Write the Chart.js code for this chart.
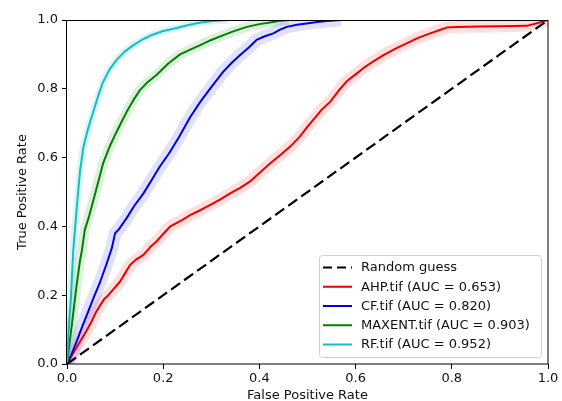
<!DOCTYPE html>
<html><head><meta charset="utf-8">
<script src="https://cdn.jsdelivr.net/npm/chart.js@4/dist/chart.umd.min.js"></script>
<style>html,body{margin:0;padding:0;background:#fff}#wrap{width:562px;height:401px}</style>
</head><body><div id="wrap"><canvas id="c" width="562" height="401"></canvas></div>
<script>
// ---- data ----
const xTicks = [0, 0.2, 0.4, 0.6, 0.8, 1.0];
const yTicks = [0, 0.2, 0.4, 0.6, 0.8, 1.0];
const xTitle = 'False Positive Rate';
const yTitle = 'True Positive Rate';

const diagLabel = 'Random guess';
const diagFpr = [0, 1];
const diagTpr = [0, 1];

const ahpLabel = 'AHP.tif (AUC = 0.653)';
const ahpFpr = [0,0.012,0.027,0.04,0.051,0.06,0.069,0.078,0.086,0.098,0.11,0.12,0.131,0.145,0.159,0.173,0.186,0.2,0.214,0.235,0.256,0.277,0.297,0.318,0.339,0.36,0.38,0.4,0.422,0.443,0.464,0.484,0.5,0.515,0.53,0.547,0.565,0.581,0.6,0.616,0.637,0.658,0.682,0.706,0.73,0.755,0.775,0.789,0.81,0.859,0.9,0.956,0.975,1];
const ahpTpr = [0,0.03,0.065,0.095,0.123,0.15,0.171,0.19,0.2,0.22,0.239,0.262,0.288,0.305,0.317,0.34,0.356,0.378,0.399,0.415,0.433,0.447,0.462,0.478,0.496,0.512,0.53,0.555,0.583,0.607,0.632,0.661,0.69,0.715,0.74,0.762,0.795,0.821,0.842,0.86,0.88,0.898,0.916,0.932,0.948,0.961,0.971,0.978,0.98,0.981,0.982,0.983,0.99,1];

const cfLabel = 'CF.tif (AUC = 0.820)';
const cfFpr = [0,0.01,0.02,0.032,0.044,0.056,0.069,0.082,0.093,0.1,0.107,0.124,0.14,0.159,0.176,0.193,0.212,0.233,0.255,0.277,0.3,0.325,0.342,0.36,0.378,0.394,0.41,0.429,0.443,0.457,0.478,0.498,0.52,0.54,0.57,1];
const cfTpr = [0,0.03,0.065,0.11,0.152,0.195,0.239,0.29,0.336,0.38,0.39,0.424,0.46,0.496,0.535,0.574,0.612,0.66,0.715,0.762,0.805,0.85,0.875,0.898,0.92,0.942,0.952,0.961,0.972,0.98,0.986,0.99,0.994,0.997,1,1];

const maxentLabel = 'MAXENT.tif (AUC = 0.903)';
const maxentFpr = [0,0.005,0.01,0.02,0.027,0.031,0.037,0.046,0.055,0.065,0.075,0.088,0.1,0.112,0.124,0.138,0.152,0.168,0.186,0.21,0.235,0.255,0.277,0.3,0.325,0.35,0.374,0.4,0.422,0.44,0.46,1];
const maxentTpr = [0,0.06,0.113,0.23,0.3,0.33,0.39,0.43,0.477,0.53,0.583,0.63,0.666,0.7,0.733,0.767,0.797,0.82,0.84,0.873,0.9,0.913,0.927,0.942,0.956,0.969,0.98,0.988,0.993,0.997,1,1];

const rfLabel = 'RF.tif (AUC = 0.952)';
const rfFpr = [0,0.003,0.008,0.013,0.02,0.027,0.034,0.044,0.055,0.065,0.075,0.088,0.103,0.12,0.138,0.158,0.179,0.2,0.228,0.25,0.275,0.304,0.335,1];
const rfTpr = [0,0.09,0.19,0.33,0.45,0.56,0.63,0.685,0.735,0.78,0.82,0.855,0.884,0.908,0.927,0.944,0.958,0.968,0.977,0.985,0.992,0.997,1,1];

// ---- build chart ----
const pts = (xs, ys) => xs.map((x, i) => ({x: x, y: ys[i]}));
const series = [
  {label: ahpLabel, fpr: ahpFpr, tpr: ahpTpr, color: 'rgb(235,0,0)', band: 'rgba(255,0,0,0.13)', bw: 12},
  {label: cfLabel, fpr: cfFpr, tpr: cfTpr, color: 'rgb(0,0,225)', band: 'rgba(0,0,255,0.12)', bw: 13},
  {label: maxentLabel, fpr: maxentFpr, tpr: maxentTpr, color: 'rgb(0,128,0)', band: 'rgba(0,128,0,0.13)', bw: 10},
  {label: rfLabel, fpr: rfFpr, tpr: rfTpr, color: 'rgb(20,190,190)', band: 'rgba(0,191,191,0.15)', bw: 7}
];

const datasets = [];
datasets.push({label: diagLabel, data: pts(diagFpr, diagTpr), borderColor: '#000', borderWidth: 2.2,
  borderDash: [11, 5], pointRadius: 0, tension: 0, order: 0, clip: 0});
series.forEach((s, i) => {
  datasets.push({label: s.label, data: pts(s.fpr, s.tpr), borderColor: s.color, borderWidth: 2,
    pointRadius: 0, tension: 0, order: 4 - i, clip: 0, borderJoinStyle: 'round'});
});
series.forEach((s, i) => {
  // band follows the curve until it first reaches TPR = 1 (no band along the top edge)
  const firstTop = s.tpr.indexOf(1);
  const end = firstTop >= 0 ? firstTop + 1 : s.tpr.length;
  datasets.push({label: '_band' + i, data: pts(s.fpr.slice(0, end), s.tpr.slice(0, end)), borderColor: s.band, borderWidth: s.bw,
    pointRadius: 0, tension: 0, order: 20 - i, clip: 0, borderJoinStyle: 'round', borderCapStyle: 'butt'});
});

const legendItems = [{label: diagLabel, color: '#000', dash: true}].concat(
  series.map(s => ({label: s.label, color: s.color, dash: false})));

const framePlugin = {
  id: 'frameLegend',
  afterDatasetsDraw(chart) {
    const {ctx, chartArea: a} = chart;
    ctx.save();
    ctx.strokeStyle = '#000';
    ctx.lineWidth = 1;
    ctx.strokeRect(a.left - 0.5, a.top + 0.5, a.right - a.left + 0.5, a.bottom - a.top - 0.5);
    // legend
    const bx = a.right - 229, by = a.bottom - 109, bw = 222, bh = 102;
    ctx.beginPath();
    ctx.roundRect(bx + 0.5, by + 0.5, bw, bh, 3);
    ctx.fillStyle = 'rgba(255,255,255,0.85)';
    ctx.fill();
    ctx.strokeStyle = '#d0d0d0';
    ctx.stroke();
    ctx.font = '13px "DejaVu Sans"';
    ctx.textBaseline = 'middle';
    ctx.textAlign = 'left';
    legendItems.forEach((it, i) => {
      const y = by + 12.5 + i * 19.25;
      ctx.beginPath();
      ctx.strokeStyle = it.color;
      ctx.lineWidth = it.dash ? 2.2 : 2;
      ctx.setLineDash(it.dash ? [9, 5] : []);
      ctx.moveTo(bx + 4, y);
      ctx.lineTo(bx + 33, y);
      ctx.stroke();
      ctx.setLineDash([]);
      ctx.fillStyle = '#111';
      ctx.fillText(it.label, bx + 42, y + 0.5);
    });
    ctx.restore();
  }
};

Chart.defaults.font.family = '"DejaVu Sans"';
Chart.defaults.font.size = 13;
Chart.defaults.color = '#111';

new Chart(document.getElementById('c'), {
  type: 'line',
  data: {datasets: datasets},
  options: {
    responsive: false,
    animation: false,
    devicePixelRatio: 1,
    layout: {padding: {top: 20, right: 14, left: 0, bottom: 0}},
    plugins: {legend: {display: false}, tooltip: {enabled: false}},
    scales: {
      x: {
        type: 'linear', min: 0, max: 1,
        afterBuildTicks: s => { s.ticks = xTicks.map(v => ({value: v})); },
        afterFit: s => { s.height = 37; },
        ticks: {callback: v => v.toFixed(1), padding: 2, maxRotation: 0, color: '#111'},
        grid: {drawOnChartArea: false, drawTicks: true, tickLength: 5, color: '#000', tickWidth: 1},
        border: {display: false},
        title: {display: true, text: xTitle, padding: {top: 0, bottom: 0}, font: {size: 13, lineHeight: 0.9}, color: '#111'}
      },
      y: {
        type: 'linear', min: 0, max: 1,
        afterBuildTicks: s => { s.ticks = yTicks.map(v => ({value: v})); },
        afterFit: s => { s.width = 67; },
        ticks: {callback: v => v.toFixed(1), padding: 4, color: '#111'},
        grid: {drawOnChartArea: false, drawTicks: true, tickLength: 5, color: '#000', tickWidth: 1},
        border: {display: false},
        title: {display: true, text: yTitle, padding: {top: 15, bottom: 0}, font: {size: 13}, color: '#111'}
      }
    }
  },
  plugins: [framePlugin]
});
</script>
</body></html>
